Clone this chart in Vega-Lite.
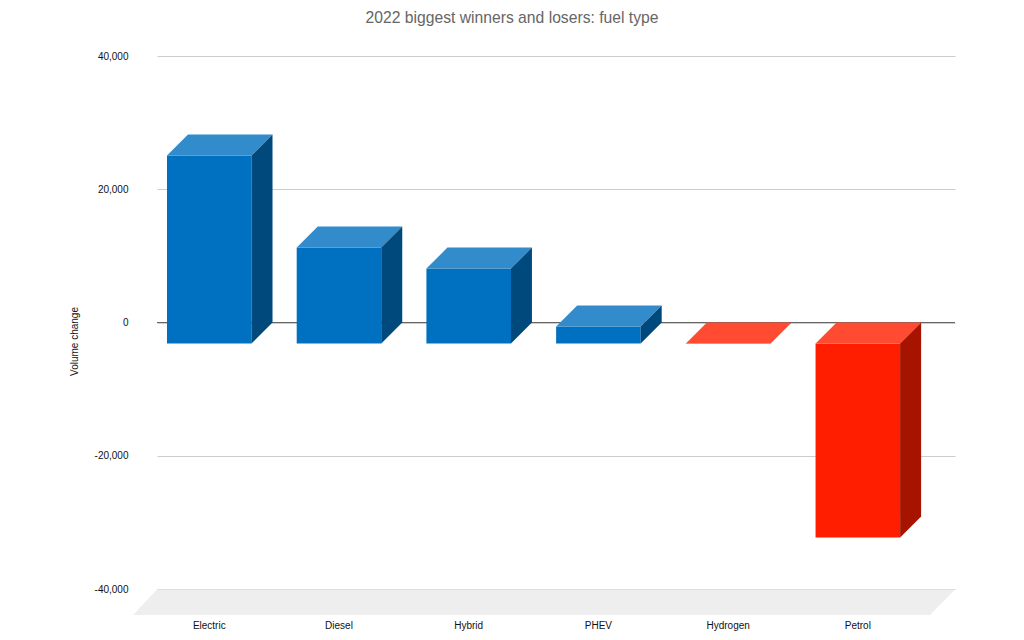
{
  "$schema": "https://vega.github.io/schema/vega-lite/v6.json",
  "width": 798,
  "height": 533,
  "autosize": "none",
  "padding": {"left": 157, "top": 56, "right": 69, "bottom": 51},
  "background": "white",
  "title": {"text": "2022 biggest winners and losers: fuel type", "font": "Liberation Sans", "fontSize": 15.7, "fontWeight": "normal", "color": "#666666", "anchor": "middle", "offset": 24, "dx": -44},
  "config": {"view": {"stroke": null}},
  "datasets": {
    "fuels": [
      {"fuel": "Electric", "top": 28200, "bottom": 0, "direction": "gain"},
      {"fuel": "Diesel", "top": 14400, "bottom": 0, "direction": "gain"},
      {"fuel": "Hybrid", "top": 11250, "bottom": 0, "direction": "gain"},
      {"fuel": "PHEV", "top": 2550, "bottom": 0, "direction": "gain"},
      {"fuel": "Hydrogen", "top": 0, "bottom": -20, "direction": "loss"},
      {"fuel": "Petrol", "top": 0, "bottom": -29100, "direction": "loss"}
    ]
  },
  "data": {"name": "fuels"},
  "encoding": {
    "x": {
      "field": "fuel", "type": "nominal", "sort": null,
      "scale": {"paddingInner": 0.348, "paddingOuter": 0.25, "align": 0.154},
      "axis": {"title": null, "labelAngle": 0, "domain": false, "ticks": false, "labelPadding": 31, "labelFont": "Liberation Sans", "labelFontSize": 10, "labelColor": "#111111"}
    },
    "y": {
      "field": "top", "type": "quantitative",
      "scale": {"domain": [-40000, 40000], "nice": false, "zero": false},
      "axis": {"title": "Volume change", "titleFont": "Liberation Sans", "titleFontSize": 10, "titleFontWeight": "normal", "titleColor": "#111111", "titleX": -78, "titleY": 285, "values": [-40000, -20000, 0, 20000, 40000], "labelExpr": "(datum.value < 0 ? '-' : '') + format(abs(datum.value), ',')", "domain": false, "ticks": false, "labelPadding": 29, "labelFont": "Liberation Sans", "labelFontSize": 10, "labelColor": "#111111", "grid": true, "gridColor": "#cccccc", "gridWidth": 1}
    }
  },
  "layer": [
    {
      "data": {"values": [{"top": -40000}]},
      "mark": {"type": "point", "filled": true, "opacity": 1, "color": "#eeeeee", "strokeWidth": 0, "size": 4, "shape": "M-399,0.5L399,0.5L374,26L-423,26Z"},
      "encoding": {"x": {}}
    },
    {
      "mark": {"type": "rule", "color": "#666666", "strokeWidth": 1},
      "data": {"values": [{"top": 0}]},
      "encoding": {"x": {}}
    },
    {
      "mark": {"type": "rect", "yOffset": 21, "y2Offset": 21},
      "encoding": {
        "y2": {"field": "bottom"},
        "color": {"condition": {"test": "datum.direction === 'loss'", "value": "#FF1E00"}, "value": "#0070C0"}
      }
    },
    {
      "mark": {"type": "point", "filled": true, "opacity": 1, "strokeWidth": 0, "size": 4, "shape": "M-42.25,21L42.25,21L63.25,0L-21.25,0Z"},
      "encoding": {
        "color": {"condition": {"test": "datum.direction === 'loss'", "value": "#FF4B32"}, "value": "#328BCB"}
      }
    },
    {
      "mark": {"type": "point", "filled": true, "opacity": 1, "strokeWidth": 0, "size": 4,
        "shape": {"expr": "'M42.25,21L63.25,0L63.25,' + (scale('y', datum.bottom) - scale('y', datum.top)) + 'L42.25,' + (scale('y', datum.bottom) - scale('y', datum.top) + 21) + 'Z'"}},
      "encoding": {
        "color": {"condition": {"test": "datum.direction === 'loss'", "value": "#A61400"}, "value": "#00497D"}
      }
    }
  ]
}
